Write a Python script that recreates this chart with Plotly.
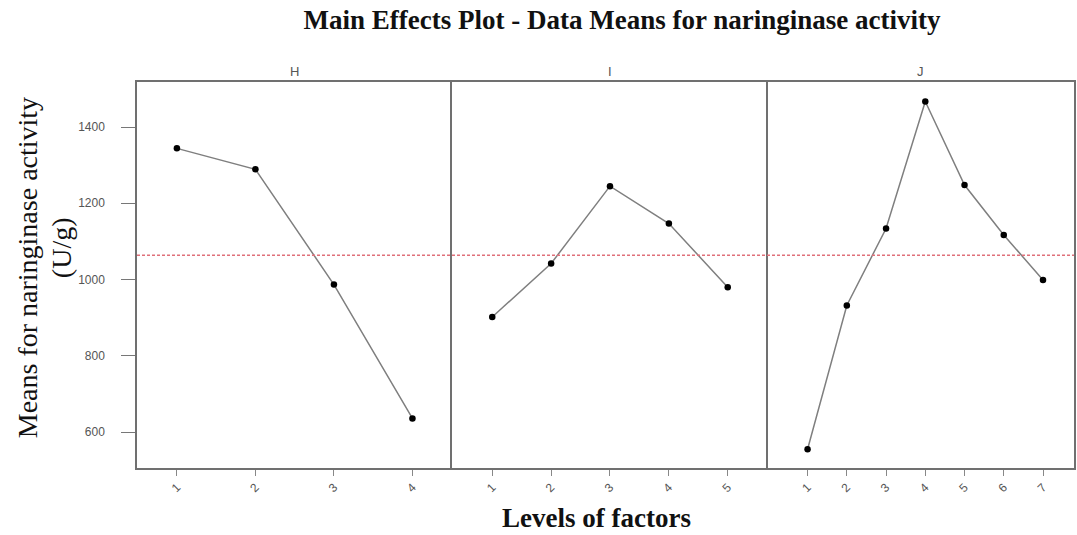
import plotly.graph_objects as go
import numpy as np

# ---- data ----
factors = ["H", "I", "J"]
levels_H = [1, 2, 3, 4]
means_H = [1344, 1289, 987, 636]
levels_I = [1, 2, 3, 4, 5]
means_I = [902, 1042, 1245, 1147, 980]
levels_J = [1, 2, 3, 4, 5, 6, 7]
means_J = [555, 932, 1134, 1467, 1248, 1117, 999]
y_ticks = [600, 800, 1000, 1200, 1400]

grand_mean = float(np.mean(means_H))

W, H = 1077, 535
L, R, T, B = 137, 1, 82, 67
plot_w = W - L - R
plot_h = H - T - B

def px2paper_x(px):
    return (px - L) / plot_w

def px2paper_y(py):
    return (H - B - py) / plot_h

dom = [(0.0, px2paper_x(453)), (px2paper_x(453), px2paper_x(769)), (px2paper_x(769), 1.0)]
xranges = [(0.492, 4.508), (0.322, 5.678), (-0.017, 7.79)]

fig = go.Figure()
series = [(levels_H, means_H), (levels_I, means_I), (levels_J, means_J)]
frame_col = "#707070"
tick_font = dict(family="Liberation Sans Narrow, Liberation Sans, Arial", size=12, color="#555")
for i, (lv, mv) in enumerate(series):
    xa = "x" if i == 0 else f"x{i+1}"
    ya = "y" if i == 0 else f"y{i+1}"
    fig.add_trace(go.Scatter(
        x=lv, y=mv, mode="lines+markers", xaxis=xa, yaxis=ya,
        line=dict(color="#7f7f7f", width=1.5),
        marker=dict(color="black", size=6.5, symbol="circle"),
        showlegend=False, hoverinfo="x+y"))

yrange = [506, 1518]
layout_axes = {}
for i in range(3):
    xk = "xaxis" if i == 0 else f"xaxis{i+1}"
    yk = "yaxis" if i == 0 else f"yaxis{i+1}"
    lv = series[i][0]
    layout_axes[xk] = dict(
        domain=list(dom[i]), range=list(xranges[i]),
        tickmode="array", tickvals=lv, ticktext=[str(v) for v in lv],
        ticks="outside", ticklen=6, tickcolor="#888", tickwidth=1,
        tickangle=-45, tickfont=tick_font,
        showline=True, linecolor=frame_col, linewidth=1.5, mirror=True,
        showgrid=False, zeroline=False,
        anchor="y" if i == 0 else f"y{i+1}")
    ydef = dict(
        domain=[0, 1], range=yrange, showgrid=False, zeroline=False,
        showline=True, linecolor=frame_col, linewidth=1.5, mirror=(i == 2),
        anchor="x" if i == 0 else f"x{i+1}")
    if i == 0:
        ydef.update(tickmode="array", tickvals=y_ticks, ticktext=[str(v) for v in y_ticks],
                    ticks="outside", ticklen=14, tickcolor="#777", tickwidth=1,
                    ticklabelstandoff=14, tickfont=tick_font)
    else:
        ydef.update(showticklabels=False, ticks="", matches="y")
    layout_axes[yk] = ydef

fig.update_layout(**layout_axes)

# grand mean reference line across all panels
fig.add_shape(type="line", xref="paper", yref="y", x0=0, x1=1, y0=grand_mean, y1=grand_mean,
              line=dict(color="#e0707a", width=1.5, dash="3px,2px"))

annotations = []
strip_y = px2paper_y(72)
for i, f in enumerate(factors):
    annotations.append(dict(text=f, x=(dom[i][0] + dom[i][1]) / 2, y=strip_y, xref="paper", yref="paper",
                            showarrow=False, xanchor="center", yanchor="middle",
                            font=dict(family="Liberation Sans Narrow, Liberation Sans, Arial", size=13, color="#555")))

serif = "Liberation Serif, Times New Roman, serif"
annotations.append(dict(text="<b>Levels of factors</b>", x=px2paper_x(597), y=px2paper_y(518),
                        xref="paper", yref="paper", showarrow=False, xanchor="center", yanchor="middle",
                        font=dict(family=serif, size=27, color="#111")))
annotations.append(dict(text="Means for naringinase activity", x=px2paper_x(27), y=px2paper_y(268),
                        xref="paper", yref="paper", showarrow=False, xanchor="center", yanchor="middle",
                        textangle=-90,
                        font=dict(family=serif, size=28, color="#111")))
annotations.append(dict(text="(U/g)", x=px2paper_x(61), y=px2paper_y(248),
                        xref="paper", yref="paper", showarrow=False, xanchor="center", yanchor="middle",
                        textangle=-90,
                        font=dict(family=serif, size=28, color="#111")))

fig.update_layout(
    width=W, height=H,
    margin=dict(l=L, r=R, t=T, b=B),
    paper_bgcolor="white", plot_bgcolor="white",
    title=dict(text="<b>Main Effects Plot - Data Means for naringinase activity</b>",
               x=622 / W, xref="container", xanchor="center",
               y=1 - 20 / H, yref="container", yanchor="middle",
               font=dict(family=serif, size=27, color="#111")),
    annotations=annotations,
)

fig.write_html("out.html", config={"displayModeBar": False},
               post_script="document.body.style.margin='0';document.body.style.overflow='hidden';")
